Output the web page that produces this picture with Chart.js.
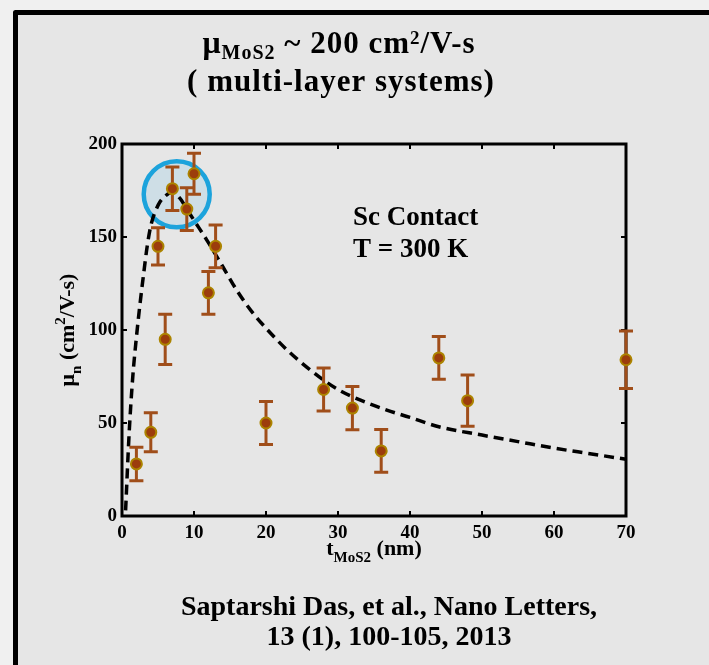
<!DOCTYPE html>
<html>
<head>
<meta charset="utf-8">
<script src="https://cdn.jsdelivr.net/npm/chart.js@4/dist/chart.umd.min.js"></script>
<style>
  html, body { margin: 0; padding: 0; background: #f0f0f0; }
  #wrap { width: 709px; height: 665px; }
  canvas { display: block; }
</style>
</head>
<body>
<div id="wrap"><canvas id="chart" width="709" height="665"></canvas></div>
<script>
// Measured mobility vs. MoS2 flake thickness (Sc contacts, 300 K)
const thickness   = [2, 4, 5, 6, 7, 9, 10, 12, 13, 20, 28, 32, 36, 44, 48, 70];
const mobility    = [28, 45, 145, 95, 176, 165, 184, 120, 145, 50, 68, 58, 35, 85, 62, 84];
const mobilityErr = [9, 10.5, 10, 13.5, 11.7, 11.5, 11, 11.5, 11.5, 11.5, 11.6, 11.6, 11.5, 11.5, 13.8, 15.5];

// Model curve (dashed)
const fitThickness = [0.5, 1, 1.5, 2, 2.5, 3, 3.5, 4, 5, 6, 7, 8, 9, 10, 12, 14, 16, 18, 20, 23, 26, 30, 36, 40, 44, 50, 55, 60, 65, 70];
const fitMobility  = [3, 45, 75, 96, 114, 130, 145, 156, 167, 172, 174, 171, 165, 159, 147, 134, 121, 110, 101, 89, 79, 68, 58, 53, 48, 43.5, 40, 36.5, 33.5, 30.5];

// Peak region marker
const peakThickness = [7.6];
const peakMobility  = [173];

// Axis ticks
const xTicks = [0, 10, 20, 30, 40, 50, 60, 70];
const yTicks = [0, 50, 100, 150, 200];

const SERIF = '"Liberation Serif", "Times New Roman", serif';

function drawRuns(ctx, runs, x, y, align) {
  let total = 0;
  runs.forEach(r => {
    ctx.font = `bold ${r.size}px ${SERIF}`;
    r.w = ctx.measureText(r.text).width;
    total += r.w;
  });
  let cx = align === 'center' ? x - total / 2 : x;
  runs.forEach(r => {
    ctx.font = `bold ${r.size}px ${SERIF}`;
    ctx.fillText(r.text, cx, y + (r.dy || 0));
    cx += r.w;
  });
}

// Panel background with the black frame
const panel = {
  id: 'panel',
  beforeDraw(chart) {
    const { ctx, width, height } = chart;
    ctx.save();
    ctx.fillStyle = '#f0f0f0';
    ctx.fillRect(0, 0, width, height);
    ctx.fillStyle = '#e6e6e6';
    ctx.fillRect(13, 10, width - 13, height - 10);
    ctx.strokeStyle = '#000';
    ctx.lineWidth = 5;
    ctx.lineJoin = 'round';
    ctx.beginPath();
    ctx.moveTo(15.5, height);
    ctx.lineTo(15.5, 12.5);
    ctx.lineTo(width, 12.5);
    ctx.stroke();
    ctx.restore();
  }
};

// Boxed axes with inward ticks on all four sides
const boxAxes = {
  id: 'boxAxes',
  beforeDatasetsDraw(chart) {
    const { ctx, chartArea: a, scales: { x, y } } = chart;
    ctx.save();
    ctx.strokeStyle = '#000';
    ctx.lineWidth = 2;
    ctx.beginPath();
    xTicks.forEach(v => {
      const px = x.getPixelForValue(v);
      ctx.moveTo(px, a.bottom); ctx.lineTo(px, a.bottom - 5);
      ctx.moveTo(px, a.top); ctx.lineTo(px, a.top + 5);
    });
    yTicks.forEach(v => {
      const py = y.getPixelForValue(v);
      ctx.moveTo(a.left, py); ctx.lineTo(a.left + 5, py);
      ctx.moveTo(a.right, py); ctx.lineTo(a.right - 5, py);
    });
    ctx.stroke();
    ctx.lineWidth = 3;
    ctx.lineJoin = 'miter';
    ctx.strokeRect(a.left, a.top, a.right - a.left, a.bottom - a.top);
    ctx.restore();
  }
};

// Vertical error bars with caps, drawn just beneath the measured points
const errorBars = {
  id: 'errorBars',
  beforeDatasetDraw(chart, args) {
    if (args.index !== 2) return;
    const { ctx, scales: { x, y } } = chart;
    ctx.save();
    ctx.strokeStyle = '#a04e1a';
    ctx.lineWidth = 3;
    ctx.lineCap = 'butt';
    thickness.forEach((t, i) => {
      const px = x.getPixelForValue(t);
      const top = y.getPixelForValue(mobility[i] + mobilityErr[i]);
      const bot = y.getPixelForValue(mobility[i] - mobilityErr[i]);
      ctx.beginPath();
      ctx.moveTo(px, top); ctx.lineTo(px, bot);
      ctx.moveTo(px - 7, top); ctx.lineTo(px + 7, top);
      ctx.moveTo(px - 7, bot); ctx.lineTo(px + 7, bot);
      ctx.stroke();
    });
    ctx.restore();
  }
};

// Headings, annotation, axis titles and reference
const texts = {
  id: 'texts',
  afterDraw(chart) {
    const { ctx, chartArea: a } = chart;
    ctx.save();
    ctx.fillStyle = '#000';
    ctx.textBaseline = 'alphabetic';
    ctx.textAlign = 'left';

    if ('letterSpacing' in ctx) ctx.letterSpacing = '1px';
    drawRuns(ctx, [
      { text: 'μ', size: 32 },
      { text: 'MoS2', size: 20, dy: 6 },
      { text: ' ~ 200 cm', size: 31 },
      { text: '2', size: 19, dy: -9 },
      { text: '/V-s', size: 31 }
    ], 339, 53, 'center');
    drawRuns(ctx, [{ text: '( multi-layer systems)', size: 31 }], 341, 91, 'center');
    if ('letterSpacing' in ctx) ctx.letterSpacing = '0px';

    drawRuns(ctx, [{ text: 'Sc Contact', size: 27 }], 353, 225, 'left');
    drawRuns(ctx, [{ text: 'T = 300 K', size: 27 }], 353, 257, 'left');

    // x-axis title
    drawRuns(ctx, [
      { text: 't', size: 22 },
      { text: 'MoS2', size: 15, dy: 7 },
      { text: ' (nm)', size: 22 }
    ], (a.left + a.right) / 2, 555, 'center');

    // y-axis title (rotated)
    ctx.save();
    ctx.translate(74, (a.top + a.bottom) / 2);
    ctx.rotate(-Math.PI / 2);
    drawRuns(ctx, [
      { text: 'μ', size: 22 },
      { text: 'n', size: 15, dy: 7 },
      { text: ' (cm', size: 22 },
      { text: '2', size: 15, dy: -9 },
      { text: '/V-s)', size: 22 }
    ], 0, 0, 'center');
    ctx.restore();

    drawRuns(ctx, [{ text: 'Saptarshi Das, et al., Nano Letters,', size: 28 }], 389, 615, 'center');
    drawRuns(ctx, [{ text: '13 (1), 100-105, 2013', size: 28 }], 389, 645, 'center');
    ctx.restore();
  }
};

new Chart(document.getElementById('chart'), {
  type: 'scatter',
  data: {
    datasets: [
      {
        label: 'peak',
        data: peakThickness.map((t, i) => ({ x: t, y: peakMobility[i] })),
        pointRadius: 33,
        pointBackgroundColor: 'rgba(160,205,228,0.35)',
        pointBorderColor: '#1ca3dc',
        pointBorderWidth: 4.5,
        clip: false,
        order: 3
      },
      {
        label: 'model',
        type: 'line',
        data: fitThickness.map((t, i) => ({ x: t, y: fitMobility[i] })),
        borderColor: '#000',
        borderWidth: 3.5,
        borderDash: [10, 6],
        cubicInterpolationMode: 'monotone',
        pointRadius: 0,
        fill: false,
        clip: false,
        order: 2
      },
      {
        label: 'measured',
        data: thickness.map((t, i) => ({ x: t, y: mobility[i] })),
        pointRadius: 5.5,
        pointBackgroundColor: '#9c3d0c',
        pointBorderColor: '#ac8400',
        pointBorderWidth: 2,
        clip: false,
        order: 1
      }
    ]
  },
  options: {
    responsive: false,
    animation: false,
    devicePixelRatio: 1,
    events: [],
    layout: { padding: { left: 22, right: 83, top: 144, bottom: 49 } },
    plugins: { legend: { display: false }, tooltip: { enabled: false }, title: { display: false } },
    scales: {
      x: {
        type: 'linear',
        min: 0, max: 70,
        afterBuildTicks: s => { s.ticks = xTicks.map(v => ({ value: v })); },
        afterFit: s => { s.height = 100; },
        grid: { display: false, drawTicks: false },
        border: { display: false },
        ticks: {
          padding: 6,
          color: '#000',
          maxRotation: 0,
          font: { family: SERIF, size: 19, weight: 'bold' }
        }
      },
      y: {
        type: 'linear',
        min: 0, max: 200,
        afterBuildTicks: s => { s.ticks = yTicks.map(v => ({ value: v })); },
        afterFit: s => { s.width = 100; },
        grid: { display: false, drawTicks: false },
        border: { display: false },
        ticks: {
          padding: 5,
          color: '#000',
          font: { family: SERIF, size: 19, weight: 'bold' }
        }
      }
    }
  },
  plugins: [panel, boxAxes, errorBars, texts]
});
</script>
</body>
</html>
